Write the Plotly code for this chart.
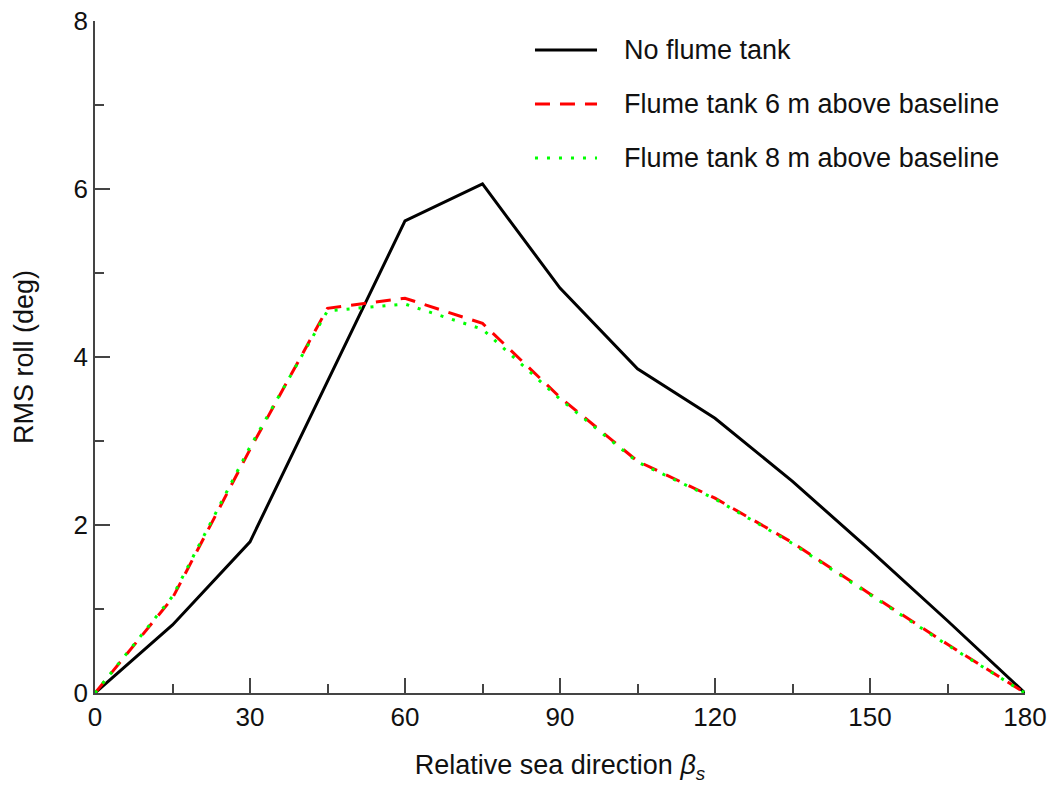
import plotly.graph_objects as go

beta = [0, 15, 30, 45, 60, 75, 90, 105, 120, 135, 150, 165, 180]
no_tank = [0, 0.81, 1.80, 3.72, 5.62, 6.06, 4.82, 3.86, 3.27, 2.52, 1.70, 0.86, 0]
tank_6m = [0, 1.13, 2.90, 4.58, 4.70, 4.40, 3.52, 2.76, 2.32, 1.79, 1.18, 0.58, 0]
tank_8m = [0, 1.15, 2.93, 4.55, 4.63, 4.33, 3.50, 2.75, 2.31, 1.78, 1.17, 0.57, 0]

names = ["No flume tank", "Flume tank 6 m above baseline", "Flume tank 8 m above baseline"]
colors = ["#000000", "#ff0000", "#00ff00"]
dashes = ["solid", "15px,10px", "3px,9px"]
series = [no_tank, tank_6m, tank_8m]

FONT = "Liberation Sans, Arial, Helvetica, sans-serif"

fig = go.Figure()
for name, ys, c, d in zip(names, series, colors, dashes):
    fig.add_trace(go.Scatter(x=beta, y=ys, mode="lines", name=name,
                             line=dict(color=c, width=3, dash=d),
                             cliponaxis=False, showlegend=False))

# manual legend
leg_y = [0.9568, 0.8765, 0.7961]
for name, c, d, yy in zip(names, colors, dashes, leg_y):
    fig.add_shape(type="line", xref="paper", yref="paper",
                  x0=0.4731, x1=0.5398, y0=yy, y1=yy,
                  line=dict(color=c, width=3, dash=d))
    fig.add_annotation(xref="paper", yref="paper", x=0.5667, y=yy,
                       text=name, showarrow=False, xanchor="left", yanchor="middle",
                       font=dict(size=27, color="#111", family=FONT))

axis_common = dict(showline=True, linecolor="#444", linewidth=1.5,
                   ticks="inside", ticklen=15, tickwidth=1.5, tickcolor="#444",
                   showgrid=False, zeroline=False, mirror=False, automargin=False,
                   tickfont=dict(size=26, color="#111", family=FONT))

fig.update_xaxes(range=[0, 180], tickvals=[0, 30, 60, 90, 120, 150, 180],
                 minor=dict(tickvals=[15, 45, 75, 105, 135, 165], ticks="inside",
                            ticklen=9, tickwidth=1.5, tickcolor="#444"),
                 title=dict(text="Relative sea direction <i>β<sub>s</sub></i>",
                            font=dict(size=27, color="#111", family=FONT), standoff=24),
                 **axis_common)
fig.update_yaxes(range=[0, 8], tickvals=[0, 2, 4, 6, 8],
                 minor=dict(tickvals=[1, 3, 5, 7], ticks="inside",
                            ticklen=9, tickwidth=1.5, tickcolor="#444"),
                 title=dict(text="RMS roll (deg)",
                            font=dict(size=27, color="#111", family=FONT), standoff=32),
                 **axis_common)

fig.update_layout(width=1052, height=785, paper_bgcolor="white", plot_bgcolor="white",
                  margin=dict(l=95, r=27, t=21, b=92), showlegend=False,
                  font=dict(family=FONT))

fig.write_html("out.html")
